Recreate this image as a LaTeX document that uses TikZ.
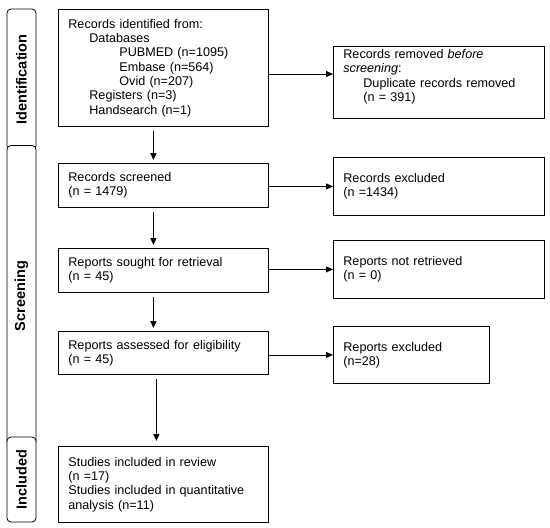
\documentclass[tikz,border=0pt]{standalone}
\usepackage{fontspec}
\setmainfont{Liberation Sans}
\usetikzlibrary{arrows.meta,calc}
\tikzset{
  stage/.style={draw,thick,anchor=north west,inner xsep=10pt,inner ysep=3pt,align=left,
                font=\fontsize{12.6}{14.3}\selectfont},
  tab/.style={draw,thick,fill=white,rounded corners=4pt,rotate=90,minimum height=29pt,
              inner sep=0pt,font=\fontsize{14.5}{16}\selectfont\bfseries},
  flow/.style={-{Triangle[length=7pt,width=6pt]},thick,shorten <=4pt,shorten >=3pt},
  side/.style={-{Triangle[length=7pt,width=6pt]},thick},
}
\begin{document}
\begin{tikzpicture}[x=1pt,y=-1pt]
  \useasboundingbox (0,0) rectangle (550,528);
  % ---- phase tabs ----
  \node[tab,minimum width=141pt] (tId) at (21.5,79.5) {Identification};
  \node[tab,minimum width=301pt] (tScr) at (21.5,296) {Screening};
  \node[tab,minimum width=85pt] (tInc) at (21.5,479.5) {Included};
  % ---- main column ----
  \node[stage,text width=190pt,minimum height=117pt] (ident) at (58,9)
    {Records identified from:\\
     \hspace*{21pt}Databases\\
     \hspace*{51pt}PUBMED (n=1095)\\
     \hspace*{51pt}Embase (n=564)\\
     \hspace*{51pt}Ovid (n=207)\\
     \hspace*{21pt}Registers (n=3)\\
     \hspace*{21pt}Handsearch (n=1)};
  \node[stage,text width=190pt,minimum height=44pt] (screened) at (58,163)
    {Records screened\\(n = 1479)};
  \node[stage,text width=190pt,minimum height=44pt] (sought) at (58,248)
    {Reports sought for retrieval\\(n = 45)};
  \node[stage,text width=190pt,minimum height=43pt] (assessed) at (58,331)
    {Reports assessed for eligibility\\(n = 45)};
  \node[stage,text width=190pt,minimum height=76pt] (incl) at (58,446)
    {Studies included in review\\(n =17)\\Studies included in quantitative\\analysis (n=11)};
  % ---- side column ----
  \node[stage,text width=191pt,minimum height=64pt] (removed) at (333,46)
    {Records removed \emph{before}\\\emph{screening}:\\
     \hspace*{20pt}Duplicate records removed\\
     \hspace*{20pt}(n = 391)\\[0pt]\mbox{}};
  \node[stage,text width=191pt,minimum height=58pt] (recExcl) at (333,157)
    {Records excluded\\(n =1434)};
  \node[stage,text width=191pt,minimum height=58pt] (notRetr) at (333,240)
    {Reports not retrieved\\(n = 0)};
  \node[stage,text width=136pt,minimum height=57pt] (repExcl) at (333,326)
    {Reports excluded\\(n=28)};
  % ---- edges ----
  \draw[flow] ([xshift=-10pt]ident.south) -- ([xshift=-10pt]ident.south |- screened.north);
  \draw[flow] ([xshift=-10pt]screened.south) -- ([xshift=-10pt]screened.south |- sought.north);
  \draw[flow] ([xshift=-10pt]sought.south) -- ([xshift=-10pt]sought.south |- assessed.north);
  \draw[flow,shorten >=5pt] ([xshift=-7pt]assessed.south) -- ([xshift=-7pt]assessed.south |- incl.north);
  \draw[side] (ident.east |- 0,74) -- (removed.west |- 0,74);
  \draw[side] (screened.east |- recExcl.west) -- (recExcl.west);
  \draw[side] (sought.east |- notRetr.west) -- (notRetr.west);
  \draw[side] (assessed.east |- repExcl.west) -- (repExcl.west);
\end{tikzpicture}
\end{document}
